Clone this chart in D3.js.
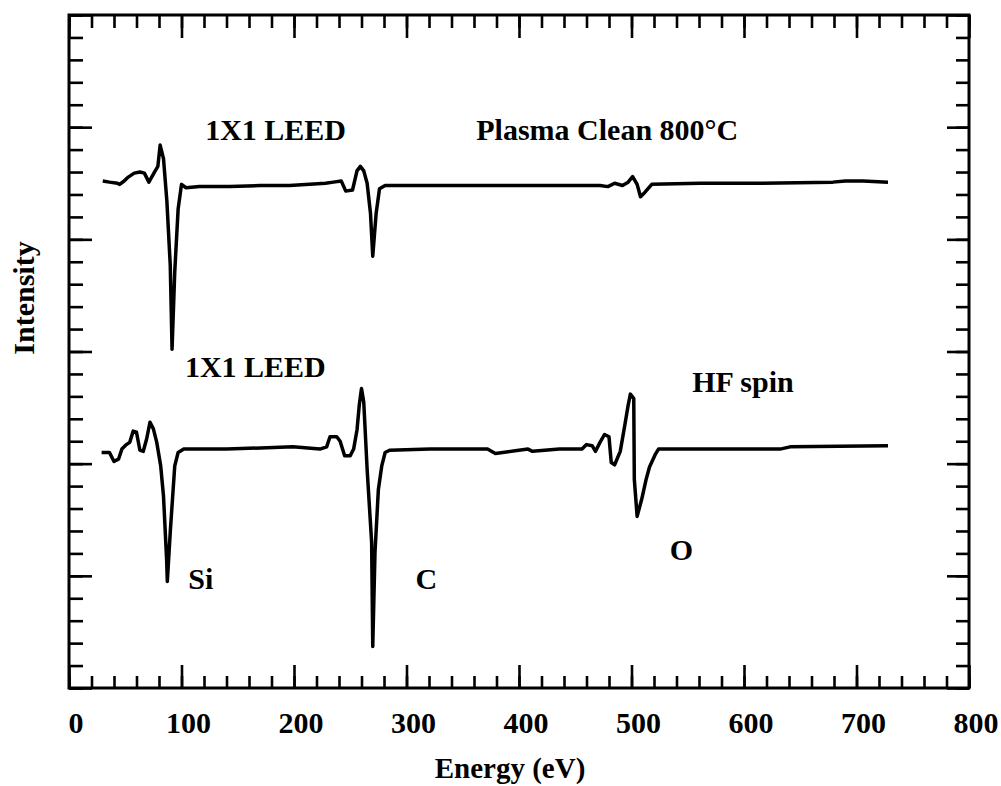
<!DOCTYPE html>
<html>
<head>
<meta charset="utf-8">
<script src="https://cdn.jsdelivr.net/npm/d3@7"></script>
<style>
  body { margin: 0; background: #fff; }
  svg text { font-family: "Liberation Serif", "Times New Roman", serif; font-weight: bold; fill: #000; }
</style>
</head>
<body>
<div id="chart"></div>
<script>
// AES spectra, energy (eV) vs intensity (arbitrary units, axis 0-600)

const xTicks = [0, 100, 200, 300, 400, 500, 600, 700, 800];

// Plasma Clean 800°C (upper trace)
const plasmaEnergy = [30, 36, 43, 45, 49, 52, 58, 63, 67, 71, 76, 79, 81, 84, 87, 90, 91.6, 94, 97, 100,
  104, 116, 143, 170, 196, 214, 228, 235, 242, 246, 252, 256, 259, 262, 265, 268, 270, 273, 276, 281,
  312, 356, 401, 445, 472, 479, 485, 492, 497, 501, 505, 508, 512, 518, 561, 614, 679, 690, 706, 728];
const plasmaIntensity = [452, 451, 450, 449, 452, 455, 459, 460, 459, 451, 460, 465, 484, 472, 434, 377, 302, 371, 427, 449,
  446, 447, 447, 448, 448, 449, 450, 451, 452, 443, 444, 461, 465, 461, 450, 423, 385, 423, 445, 448,
  448, 448, 448, 448, 448, 447, 450, 448, 451, 456, 449, 438, 442, 449, 450, 450, 451, 452, 452, 451];

// HF spin (lower trace)
const hfEnergy = [29, 36, 40, 44, 47, 51, 54, 57, 60, 63, 66, 69, 72, 75, 78, 81.5, 84, 86.8, 87.4, 90,
  94, 97, 102, 116, 140, 199, 223, 229, 232, 238, 241, 245, 250, 253, 256, 258, 260, 262, 265, 269,
  270, 272, 275, 278, 281, 285, 321, 372, 379, 408, 412, 436, 456, 460, 465, 468, 472, 476, 480, 482,
  485, 490, 494, 497, 499, 502, 502.5, 505, 509, 513, 516, 521, 524, 534, 632, 641, 728];
const hfIntensity = [210, 210, 202, 204, 213, 217, 219, 229, 228, 212, 211, 222, 237, 231, 219, 198, 171, 114, 95, 139,
  198, 210, 213, 213, 213, 215, 213, 215, 224, 224, 220, 207, 207, 213, 230, 252, 267, 255, 195, 130,
  37, 121, 177, 198, 210, 212, 213, 213, 209, 213, 211, 213, 213, 217, 216, 211, 219, 226, 224, 201,
  199, 211, 234, 252, 262, 258, 186, 153, 168, 186, 197, 208, 213, 213, 213, 215, 216];

// annotations [text, energy, intensity]
const labels = [
  ["1X1 LEED", 121, 489],
  ["Plasma Clean 800°C", 362, 489],
  ["1X1 LEED", 103, 277],
  ["HF spin", 554, 264],
  ["Si", 106, 88],
  ["C", 308, 88],
  ["O", 534, 114]
];

const W = 1001, H = 786;
const margin = { left: 69, top: 15, right: 32, bottom: 98 };
const innerW = W - margin.left - margin.right;
const innerH = H - margin.top - margin.bottom;

const svg = d3.select("#chart").append("svg")
  .attr("width", W).attr("height", H);

const g = svg.append("g").attr("transform", `translate(${margin.left},${margin.top})`);

const x = d3.scaleLinear().domain([0, 800]).range([0, innerW]);
const y = d3.scaleLinear().domain([0, 600]).range([innerH, 0]);

const minorX = d3.range(0, 801, 20);
const majorX = d3.range(0, 801, 100);
const minorY = d3.range(0, 601, 20);
const majorY = d3.range(0, 601, 100);

function tickAxis(axis, values, size) {
  return axis.tickValues(values).tickSize(size).tickFormat("");
}

const axes = [
  [d3.axisBottom(x), minorX, -12, `translate(0,${innerH})`],
  [d3.axisBottom(x), majorX, -23, `translate(0,${innerH})`],
  [d3.axisTop(x), minorX, -13, null],
  [d3.axisTop(x), majorX, -23, null],
  [d3.axisLeft(y), minorY, -14, null],
  [d3.axisLeft(y), majorY, -23, null],
  [d3.axisRight(y), minorY, -13, `translate(${innerW},0)`],
  [d3.axisRight(y), majorY, -22, `translate(${innerW},0)`]
];
axes.forEach(([ax, vals, size, tr]) => {
  const a = g.append("g").call(tickAxis(ax, vals, size));
  if (tr) a.attr("transform", tr);
  a.select(".domain").remove();
  a.selectAll("line").attr("stroke", "#000").attr("stroke-width", 2.6);
});

// frame
g.append("rect")
  .attr("x", 0).attr("y", 0)
  .attr("width", innerW).attr("height", innerH)
  .attr("fill", "none").attr("stroke", "#000").attr("stroke-width", 3);

// x tick labels
g.append("g").selectAll("text")
  .data(xTicks)
  .join("text")
  .attr("x", d => x(d) + 7)
  .attr("y", innerH + 45)
  .attr("text-anchor", "middle")
  .attr("font-size", 30)
  .text(d => d);

// traces
const line = d3.line().x(d => x(d[0])).y(d => y(d[1]));
[[plasmaEnergy, plasmaIntensity], [hfEnergy, hfIntensity]].forEach(([e, v]) => {
  g.append("path")
    .datum(e.map((d, i) => [d, v[i]]))
    .attr("d", line)
    .attr("fill", "none")
    .attr("stroke", "#000")
    .attr("stroke-width", 3.5)
    .attr("stroke-linejoin", "round");
});

// annotations
g.append("g").selectAll("text")
  .data(labels)
  .join("text")
  .attr("x", d => x(d[1]))
  .attr("y", d => y(d[2]))
  .attr("font-size", 30)
  .text(d => d[0]);

// axis titles
svg.append("text")
  .attr("x", 510).attr("y", 778)
  .attr("text-anchor", "middle")
  .attr("font-size", 29)
  .text("Energy (eV)");

svg.append("text")
  .attr("transform", "translate(34,298) rotate(-90)")
  .attr("text-anchor", "middle")
  .attr("font-size", 30)
  .text("Intensity");
</script>
</body>
</html>
